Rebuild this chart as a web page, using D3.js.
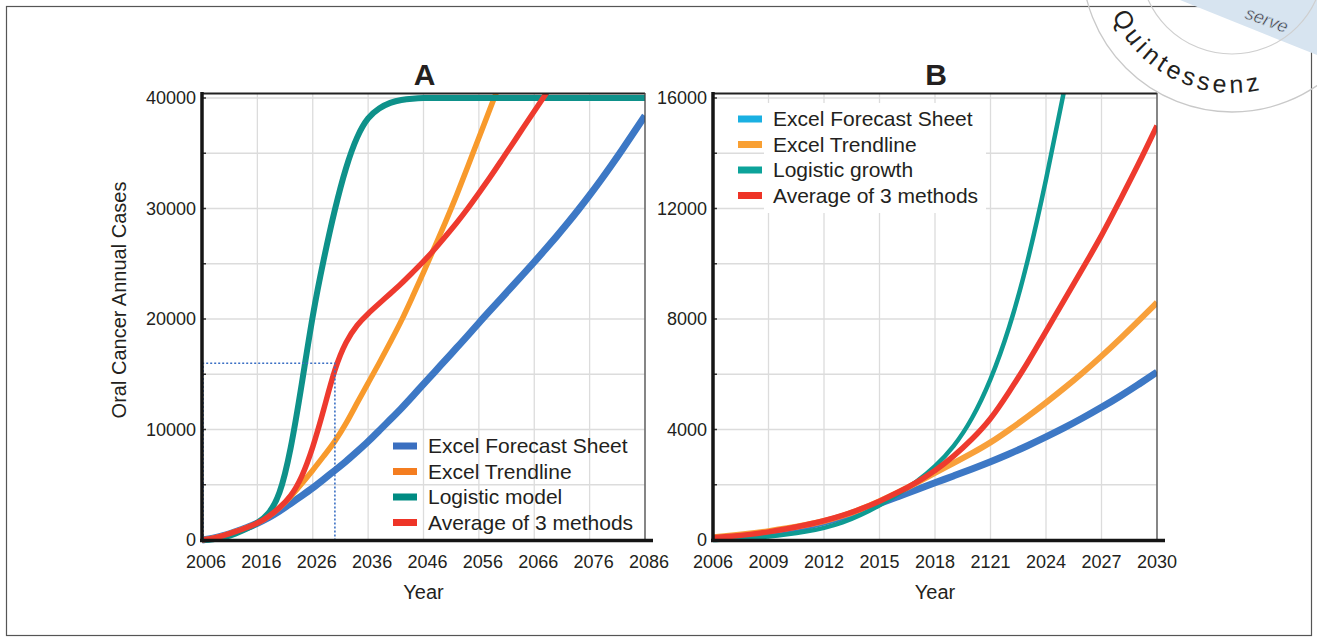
<!DOCTYPE html>
<html><head><meta charset="utf-8">
<script src="https://cdn.jsdelivr.net/npm/d3@7"></script>
<style>
body{margin:0;background:#fff}
svg{display:block}
text{font-family:Arial,"Liberation Sans",sans-serif;fill:#231f20}
</style>
</head><body>
<svg id="c" width="1317" height="641"></svg>
<script>
// ---------------- DATA ----------------
// Panel A (2006-2086, every 2 years)
const yearsA = d3.range(2006, 2087, 2);
const forecastA = [0,150,400,750,1100,1500,2000,2600,3300,4000,4700,5500,6300,7100,8000,8900,9900,10900,11900,13000,14100,15200,16300,17400,18500,19650,20750,21850,22950,24050,25150,26300,27450,28650,29900,31200,32550,33950,35400,36900,38400];
const trendA = [0,150,400,750,1100,1500,2100,2900,3900,5100,6300,7600,8900,10500,12400,14200,16000,17900,19800,22000,24200,26500,28800,31200,33800,36400,39000,41600,44200,null,null,null,null,null,null,null,null,null,null,null,null];
const logisticA = [0,50,250,550,1000,1500,2300,3900,8000,14000,20500,25500,30000,33800,36600,38300,39100,39600,39850,39950,40000,40000,40000,40000,40000,40000,40000,40000,40000,40000,40000,40000,40000,40000,40000,40000,40000,40000,40000,40000,40000];
const averageA = [0,150,400,750,1100,1500,2100,2900,3900,5600,8300,11800,15600,18000,19500,20500,21400,22300,23200,24200,25200,26300,27500,28700,30000,31400,32800,34300,35800,37300,38800,40300,41800,null,null,null,null,null,null,null,null];
const yTicksA = [0,10000,20000,30000,40000];
const xTicksA = [2006,2016,2026,2036,2046,2056,2066,2076,2086];
const xTickLabelsA = ["2006","2016","2026","2036","2046","2056","2066","2076","2086"];
const legendA = ["Excel Forecast Sheet","Excel Trendline","Logistic model","Average of 3 methods"];
const markerA = {year: 2030, value: 16000};

// Panel B (2006-2030, yearly)
const yearsB = d3.range(2006, 2031, 1);
const forecastB = [50,100,170,250,350,480,640,830,1060,1320,1570,1820,2070,2320,2570,2830,3110,3410,3730,4060,4420,4800,5200,5630,6080];
const trendB = [100,160,230,320,420,540,680,870,1110,1400,1720,2060,2430,2780,3140,3520,3980,4460,4970,5500,6060,6650,7280,7930,8600];
const logisticB = [0,20,60,120,200,300,430,620,900,1250,1650,2100,2650,3350,4350,5750,7600,10000,13000,16300,19800,null,null,null,null];
const averageB = [80,130,200,290,400,540,690,880,1120,1400,1720,2080,2500,3020,3640,4350,5350,6400,7550,8700,9850,11000,12300,13600,15000];
const yTicksB = [0,4000,8000,12000,16000];
const xTicksB = [2006,2009,2012,2015,2018,2021,2024,2027,2030];
const xTickLabelsB = ["2006","2009","2012","2015","2018","2121","2024","2027","2030"];
const legendB = ["Excel Forecast Sheet","Excel Trendline","Logistic growth","Average of 3 methods"];

// ---------------- DRAW ----------------
const svg = d3.select("#c");

// outer frame
svg.append("rect").attr("x",6.5).attr("y",6.5).attr("width",1305).attr("height",629)
  .attr("fill","none").attr("stroke","#555").attr("stroke-width",1.2);

function panel(cfg){
  const g = svg.append("g");
  const x = d3.scaleLinear().domain(cfg.xDomain).range([cfg.left, cfg.right]);
  const y = d3.scaleLinear().domain([0, cfg.yMaxTick]).range([cfg.bottom, cfg.yMaxPix]);
  const top = cfg.top;
  // grid
  const grid = g.append("g").attr("stroke","#dcdcdc").attr("stroke-width",1.3);
  d3.range(0, cfg.yMaxTick + 1, cfg.yGridStep).forEach(v => {
    grid.append("line").attr("x1",cfg.left).attr("x2",cfg.right).attr("y1",y(v)).attr("y2",y(v));
  });
  d3.range(cfg.xDomain[0], cfg.xDomain[1] + 0.01, cfg.xGridStep).forEach(v => {
    grid.append("line").attr("x1",x(v)).attr("x2",x(v)).attr("y1",top).attr("y2",cfg.bottom);
  });
  // legend background (B)
  if (cfg.legendBg) {
    g.append("rect").attr("x",cfg.legendBg[0]).attr("y",cfg.legendBg[1])
      .attr("width",cfg.legendBg[2]).attr("height",cfg.legendBg[3]).attr("fill","#fff");
  }
  // clip
  const cid = "clip" + cfg.id;
  svg.append("clipPath").attr("id",cid).append("rect")
    .attr("x",cfg.left).attr("y",top).attr("width",cfg.right-cfg.left).attr("height",cfg.bottom-top+4);
  const lines = g.append("g").attr("clip-path",`url(#${cid})`);
  cfg.series.forEach(s => {
    const pts = cfg.years.map((yr,i)=>[yr, s.values[i]]);
    const line = d3.line().defined(d=>d[1]!=null).x(d=>x(d[0])).y(d=>y(d[1])).curve(d3.curveBasis);
    lines.append("path").attr("d", line(pts)).attr("fill","none")
      .attr("stroke", s.color).attr("stroke-width", s.width).attr("stroke-linejoin","round").attr("stroke-linecap","butt");
  });
  // dotted marker
  if (cfg.marker) {
    const m = cfg.marker;
    g.append("path")
      .attr("d", `M${cfg.left+1},${y(0)} V${y(m.value)} H${x(m.year)} V${y(0)}`)
      .attr("fill","none").attr("stroke","#3a6fc4").attr("stroke-width",1.6).attr("stroke-dasharray","2,2");
  }
  // frame top/right
  g.append("line").attr("x1",cfg.left).attr("x2",cfg.right).attr("y1",top+0.5).attr("y2",top+0.5)
    .attr("stroke","#222").attr("stroke-width",1.8);
  g.append("line").attr("x1",cfg.right).attr("x2",cfg.right).attr("y1",top).attr("y2",cfg.bottom)
    .attr("stroke","#444").attr("stroke-width",1.2);
  // inner ticks on left axis
  d3.range(0, cfg.yMaxTick + 1, cfg.yGridStep).forEach(v => {
    g.append("line").attr("x1",cfg.left).attr("x2",cfg.left+4).attr("y1",y(v)).attr("y2",y(v))
      .attr("stroke","#333").attr("stroke-width",1.5);
  });
  // thick axes
  g.append("line").attr("x1",cfg.left).attr("x2",cfg.left).attr("y1",top-1).attr("y2",cfg.bottom+2)
    .attr("stroke","#151515").attr("stroke-width",3.5);
  g.append("line").attr("x1",cfg.left-2).attr("x2",cfg.right+cfg.axisExtra).attr("y1",cfg.bottom+0.5).attr("y2",cfg.bottom+0.5)
    .attr("stroke","#151515").attr("stroke-width",3.5);
  // tick labels
  cfg.yTicks.forEach(v => {
    g.append("text").attr("x",cfg.left-6).attr("y",y(v)).attr("dy","0.36em")
      .attr("text-anchor","end").attr("font-size",18).text(String(v));
  });
  cfg.xTicks.forEach((v,i) => {
    g.append("text").attr("x",x(v)+cfg.xLabelShift).attr("y",568).attr("text-anchor","middle")
      .attr("font-size",18).text(cfg.xTickLabels[i]);
  });
  // axis title
  g.append("text").attr("x",(cfg.left+cfg.right)/2).attr("y",599).attr("text-anchor","middle")
    .attr("font-size",20).text("Year");
  // panel title
  g.append("text").attr("x",(cfg.left+cfg.right)/2+1).attr("y",85).attr("text-anchor","middle")
    .attr("font-size",30).attr("font-weight","bold").text(cfg.title);
  // legend
  const lg = g.append("g");
  cfg.legend.forEach((name,i) => {
    const yy = cfg.legendY + i*cfg.legendStep;
    lg.append("rect").attr("x",cfg.legendX).attr("y",yy-3.5).attr("width",24).attr("height",7)
      .attr("fill",cfg.legendColors[i]);
    lg.append("text").attr("x",cfg.legendX+35).attr("y",yy).attr("dy","0.35em")
      .attr("font-size",21).text(name);
  });
  return {x,y};
}

panel({
  id:"A", title:"A", left:202, right:645, top:93, bottom:540, yMaxPix:98, yMaxTick:40000,
  xDomain:[2006,2086], years:yearsA, yGridStep:5000, xGridStep:10, axisExtra:8, xLabelShift:4,
  yTicks:yTicksA, xTicks:xTicksA, xTickLabels:xTickLabelsA,
  series:[
    {values:forecastA, color:"#3d78c5", width:7},
    {values:trendA, color:"#f89a2c", width:5.5},
    {values:logisticA, color:"#0e918a", width:6},
    {values:averageA, color:"#ee3a2e", width:5.5}
  ],
  marker: markerA,
  legend: legendA, legendColors:["#3a6fc0","#f47d20","#008b82","#ee3427"],
  legendX:393, legendY:446, legendStep:25.5
});

panel({
  id:"B", title:"B", left:713, right:1157, top:93, bottom:540, yMaxPix:98, yMaxTick:16000,
  xDomain:[2006,2030], years:yearsB, yGridStep:2000, xGridStep:3, axisExtra:8, xLabelShift:0,
  yTicks:yTicksB, xTicks:xTicksB, xTickLabels:xTickLabelsB,
  series:[
    {values:forecastB, color:"#3d78c5", width:7},
    {values:trendB, color:"#f8a03a", width:6},
    {values:logisticB, color:"#0e9a92", width:4.5},
    {values:averageB, color:"#ee3a2e", width:5.5}
  ],
  legendBg:[764,103,222,110],
  legend: legendB, legendColors:["#1ab0e2","#f9a033","#0ca39a","#ee3427"],
  legendX:738, legendY:119, legendStep:25.5
});

// y-axis title (panel A)
svg.append("text").attr("transform","translate(126,300) rotate(-90)")
  .attr("text-anchor","middle").attr("font-size",20).text("Oral Cancer Annual Cases");

// watermark stamp (top-right corner)
const wm = svg.append("g");
wm.append("path").attr("d","M1180,0 L1317,0 L1317,55 Z").attr("fill","#d7e4f0");
wm.append("text").attr("transform","translate(1244,18) rotate(20)")
  .attr("font-size",18).attr("font-style","italic").attr("fill","#ffffff").attr("stroke","#c8d6e4").attr("stroke-width",0.6)
  .text("serve");
wm.append("circle").attr("cx",1232).attr("cy",-38).attr("r",150).attr("fill","none").attr("stroke","#c9c9c9").attr("stroke-width",1.3);
wm.append("circle").attr("cx",1232).attr("cy",-38).attr("r",92).attr("fill","none").attr("stroke","#cfcfcf").attr("stroke-width",1.2);
const rr = 131, a0 = 156*Math.PI/180, a1 = 50*Math.PI/180;
wm.append("path").attr("id","wmArc").attr("fill","none")
  .attr("d",`M${1232+rr*Math.cos(a0)},${-38+rr*Math.sin(a0)} A${rr},${rr} 0 0 0 ${1232+rr*Math.cos(a1)},${-38+rr*Math.sin(a1)}`);
wm.append("text").attr("font-size",25).attr("fill","#c4c4c4").attr("letter-spacing",4)
  .append("textPath").attr("href","#wmArc").attr("startOffset","0%").text("Quintessenz");
</script>
</body></html>
